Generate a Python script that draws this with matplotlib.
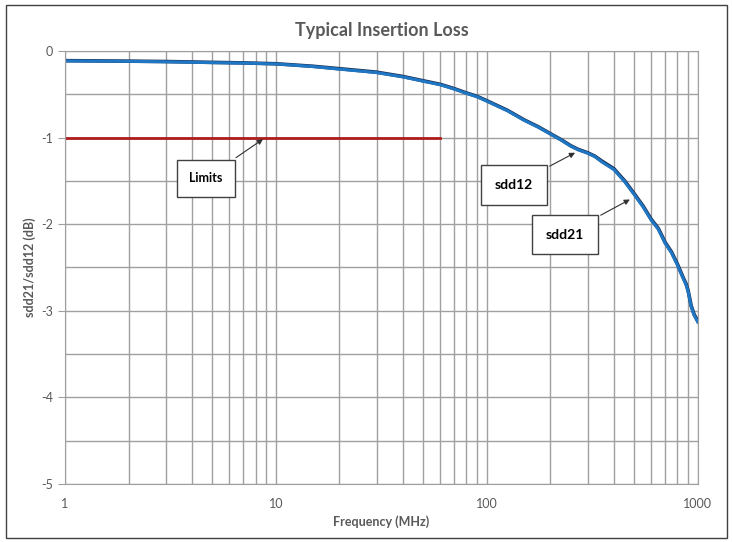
import matplotlib
matplotlib.use('Agg')
from matplotlib import pyplot as plt
from matplotlib.patches import Rectangle

# Данные
freq = [1, 2, 3, 5, 7, 10, 15, 20, 30, 40, 50, 60, 70, 80, 90, 100, 125, 150, 175, 200,
        225, 250, 270, 300, 325, 350, 400, 450, 500, 550, 600, 650, 700, 750, 800,
        850, 880, 900, 930, 960, 1000]
sdd21 = [-0.115, -0.12, -0.125, -0.135, -0.14, -0.15, -0.18, -0.21, -0.25, -0.30, -0.35,
         -0.39, -0.44, -0.49, -0.53, -0.58, -0.69, -0.80, -0.88, -0.96, -1.03, -1.10,
         -1.14, -1.18, -1.22, -1.28, -1.37, -1.51, -1.66, -1.80, -1.95, -2.06, -2.22,
         -2.33, -2.47, -2.62, -2.70, -2.78, -2.95, -3.05, -3.13]
sdd12 = [-0.112, -0.118, -0.122, -0.132, -0.138, -0.148, -0.177, -0.205, -0.245, -0.295,
         -0.345, -0.385, -0.435, -0.485, -0.525, -0.575, -0.685, -0.795, -0.875, -0.955,
         -1.025, -1.095, -1.135, -1.175, -1.215, -1.27, -1.36, -1.50, -1.65, -1.79, -1.94,
         -2.05, -2.21, -2.32, -2.46, -2.61, -2.69, -2.77, -2.94, -3.04, -3.12]
limit_freq = [1, 60]
limit_db = [-1, -1]

x_ticks = [1, 10, 100, 1000]
x_labels = ['1', '10', '100', '1000']
y_ticks = [0, -1, -2, -3, -4, -5]

gray = '#595959'
plt.rcParams['font.family'] = ['Lato', 'DejaVu Sans']
plt.rcParams['axes.unicode_minus'] = False  # обычный дефис вместо минуса

fig = plt.figure(figsize=(7.33, 5.42), dpi=100)
ax = fig.add_axes([0.0887, 0.107, 0.952 - 0.0887, 0.906 - 0.107])

# Рамка вокруг всего рисунка
fig.patches.append(Rectangle((0.008, 0.008), 0.984, 0.982, transform=fig.transFigure,
                             fill=False, edgecolor='#404040', linewidth=1))

ax.plot(limit_freq, limit_db, color='#b01c1c', linewidth=2)
ax.plot(freq, sdd12, color='#1a2f55', linewidth=2.6)
ax.plot(freq, sdd21, color='#1f77c4', linewidth=2.2)
ax.set_xscale('log')
ax.set_xlim(1, 1000)
ax.set_ylim(-5, 0)

# Сетка
ax.set_xticks(x_ticks)
ax.set_xticklabels(x_labels)
ax.set_yticks(y_ticks)
ax.set_yticks([-0.5, -1.5, -2.5, -3.5, -4.5], minor=True)
ax.grid(True, which='both', color='#a0a0a0', linewidth=1)
ax.set_axisbelow(True)
for s in ax.spines.values():
    s.set_color('#a0a0a0')
ax.tick_params(axis='x', which='both', length=0, labelsize=9, labelcolor=gray, pad=10)
ax.tick_params(axis='y', which='major', length=5, color='#a0a0a0', labelsize=9, labelcolor=gray)
ax.tick_params(axis='y', which='minor', length=0)

ax.set_title('Typical Insertion Loss', fontsize=13, fontweight='bold', color=gray, pad=11)
ax.set_xlabel('Frequency (MHz)', fontsize=9, fontweight='bold', color=gray)
ax.set_ylabel('sdd21/sdd12 (dB)', fontsize=9, fontweight='bold', color=gray)

# Подписи со стрелками
box = dict(boxstyle='square,pad=1.0', facecolor='white', edgecolor='#404040', linewidth=1)
arrow = dict(arrowstyle='-|>', color='#303030', linewidth=0.8, mutation_scale=8)
ax.annotate('Limits', xy=(8.9, -1), xytext=(4.66, -1.47), ha='center', va='center',
            fontsize=9, fontweight='bold', bbox=box, arrowprops=arrow)
ax.annotate('sdd12', xy=(269, -1.16), xytext=(134, -1.55), ha='center', va='center',
            fontsize=10, fontweight='bold', bbox=box, arrowprops=arrow)
ax.annotate('sdd21', xy=(489, -1.70), xytext=(234, -2.12), ha='center', va='center',
            fontsize=10, fontweight='bold', bbox=box, arrowprops=arrow)

plt.savefig('out.png', dpi=100)
